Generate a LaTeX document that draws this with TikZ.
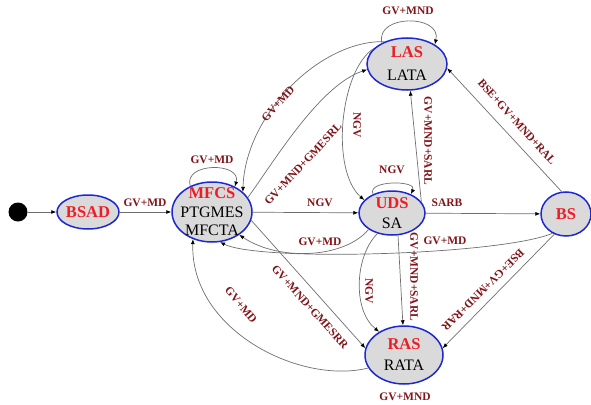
\documentclass[tikz,border=0pt]{standalone}
\usepackage{fontspec}
\setmainfont{Liberation Serif}
\usetikzlibrary{shapes.geometric,arrows.meta}
\definecolor{nodeblue}{RGB}{30,40,210}
\definecolor{nodegray}{RGB}{218,218,218}
\definecolor{titlered}{RGB}{235,30,40}
\definecolor{lblred}{RGB}{130,20,25}
\definecolor{edgegray}{RGB}{110,110,110}
\newcommand{\sttitle}[1]{{\color{titlered}\bfseries\fontsize{16.5}{19}\selectfont #1}}
\begin{document}
\begin{tikzpicture}[x=1pt,y=-1pt,
  state/.style={ellipse,draw=nodeblue,line width=1.5pt,fill=nodegray,inner sep=0pt},
  txt/.style={align=center,font=\fontsize{16}{18.5}\selectfont,inner sep=0pt},
  edge/.style={draw=edgegray,line width=0.7pt,-{Latex[length=5pt,width=4pt,color=black]}},
  lbl/.style={text=lblred,font=\fontsize{11.5}{12}\selectfont\bfseries,inner sep=1pt},
]
\useasboundingbox (0,0) rectangle (591,404);
% states
\node[circle,fill=black,minimum size=19pt,inner sep=0pt] (start) at (18,212) {};
\node[state,minimum width=62pt,minimum height=34pt,label={[txt]center:{\sttitle{BSAD}}}] (BSAD) at (88,212) {};
\node[state,minimum width=80pt,minimum height=60pt,label={[txt]center:{\sttitle{MFCS}\\PTGMES\\MFCTA}}] (MFCS) at (212,212) {};
\node[state,minimum width=66pt,minimum height=44pt,label={[txt,font=\fontsize{16}{20}\selectfont]center:{\sttitle{UDS}\\SA}}] (UDS) at (392,213) {};
\node[state,minimum width=80pt,minimum height=52pt,label={[txt,font=\fontsize{16}{23}\selectfont]center:{\sttitle{LAS}\\LATA}}] (LAS) at (407,64) {};
\node[state,minimum width=78pt,minimum height=58pt,label={[txt,font=\fontsize{16}{21}\selectfont]center:{\sttitle{RAS}\\RATA}}] (RAS) at (404,355) {};
\node[state,minimum width=50pt,minimum height=44pt,label={[txt]center:{\sttitle{BS}}}] (BS) at (566,214) {};
% straight edges
\draw[edge] (start) -- (BSAD);
\draw[edge] (BSAD) -- (MFCS);
\draw[edge] (MFCS) -- (UDS);
\draw[edge] (UDS) -- (BS);
\draw[edge] (UDS.21) -- (LAS.277);
\draw[edge] (BS.101) -- (LAS.354);
\draw[edge] (BS.240) -- (RAS.10);
\draw[edge] (MFCS.348) -- (RAS.170);
\draw[edge] (UDS.285) -- (RAS.92);
% loops
\draw[edge] (MFCS.130) .. controls (183,162) and (242,162) .. (MFCS.48);
\draw[edge] (UDS.135) .. controls (366,180) and (418,180) .. (UDS.45);
\draw[edge] (LAS.140) .. controls (375,14) and (442,14) .. (LAS.35);
% curves
\draw[edge] (LAS.135) .. controls (320,40) and (245,115) .. (MFCS.33);
\draw[edge] (MFCS.22) .. controls (275,160) and (320,85) .. (LAS.188);
\draw[edge] (LAS.155) .. controls (340,70) and (330,170) .. (UDS.155);
\draw[edge] (UDS.215) .. controls (345,258) and (280,262) .. (MFCS.320);
\draw[edge] (BS.235) .. controls (500,255) and (260,262) .. (MFCS.285);
\draw[edge] (RAS.200) .. controls (300,385) and (190,330) .. (MFCS.235);
\draw[edge] (UDS.235) .. controls (355,255) and (352,310) .. (RAS.137);
% labels
\node[lbl] (l1) at (145,203) {GV+MD};
\node[lbl] (l2) at (212,160) {GV+MD};
\node[lbl] (l3) at (320,203) {NGV};
\node[lbl] (l4) at (392,170) {NGV};
\node[lbl] (l5) at (447,203) {SARB};
\node[lbl,rotate=-90] (l6) at (428,141) {GV+MND+SARL};
\node[lbl,rotate=-48] (l7) at (517,122) {BSE+GV+MND+RAL};
\node[lbl] (l8) at (408,11) {GV+MND};
\node[lbl,rotate=48] (l9) at (278,104) {GV+MD};
\node[lbl,rotate=47] (l10) at (303,164) {GV+MND+GMESRL};
\node[lbl,rotate=-90] (l11) at (357,125) {NGV};
\node[lbl] (l12) at (320,242) {GV+MD};
\node[lbl] (l13) at (445,241) {GV+MD};
\node[lbl,rotate=-48] (l14) at (310,307) {GV+MND+GMESRR};
\node[lbl,rotate=-50] (l15) at (241,305) {GV+MD};
\node[lbl,rotate=-90] (l16) at (369,291) {NGV};
\node[lbl,rotate=-90] (l17) at (414,277) {GV+MND+SARL};
\node[lbl,rotate=225] (l18) at (483,290) {BSE+GV+MND+RAR};
\node[lbl] (l19) at (405,397) {GV+MND};
\end{tikzpicture}
\end{document}
